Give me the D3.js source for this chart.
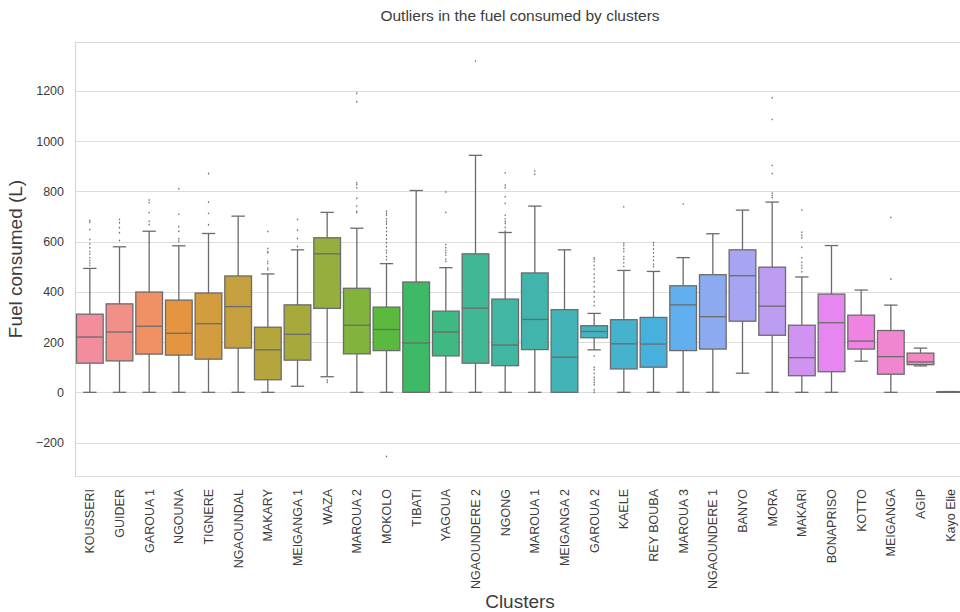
<!DOCTYPE html>
<html>
<head>
<meta charset="utf-8">
<script src="https://cdn.jsdelivr.net/npm/d3@7"></script>
<style>
  body { margin: 0; background: #fff; }
  text { font-family: "Liberation Sans", Arial, sans-serif; }
</style>
</head>
<body>
<div id="container"></div>
<script>
/* DATA */
const clusters = ["KOUSSERI", "GUIDER", "GAROUA 1", "NGOUNA", "TIGNERE", "NGAOUNDAL", "MAKARY",
  "MEIGANGA 1", "WAZA", "MAROUA 2", "MOKOLO", "TIBATI", "YAGOUA", "NGAOUNDERE 2", "NGONG",
  "MAROUA 1", "MEIGANGA 2", "GAROUA 2", "KAELE", "REY BOUBA", "MAROUA 3", "NGAOUNDERE 1",
  "BANYO", "MORA", "MAKARI", "BONAPRISO", "KOTTO", "MEIGANGA", "AGIP", "Kayo Elie"];

const whiskerLow  = [0, 0, 0, 0, 0, 0, 0, 24, 62, 0, 0, 0, 0, 0, 0, 0, 0, 169, 0, 0, 0, 0, 76, 0, 0, 0, 124, 0, 105, 0];
const q1          = [116, 125, 152, 148, 132, 176, 50, 128, 334, 153, 166, 0, 145, 116, 106, 170, 0, 217, 93, 100, 166, 172, 283, 227, 66, 82, 172, 72, 110, 1];
const medians     = [220, 240, 263, 235, 273, 341, 169, 231, 551, 267, 250, 196, 240, 335, 188, 290, 140, 242, 193, 192, 348, 301, 464, 343, 138, 277, 204, 142, 121, 2];
const q3          = [311, 352, 399, 367, 395, 463, 259, 348, 615, 414, 339, 439, 323, 551, 371, 475, 329, 265, 289, 298, 424, 468, 567, 498, 267, 391, 307, 246, 156, 2];
const whiskerHigh = [493, 579, 641, 583, 632, 701, 471, 567, 716, 653, 512, 803, 496, 943, 636, 741, 567, 314, 485, 481, 536, 631, 725, 757, 459, 584, 407, 347, 176, 3];

const outliers = [
  [684, 677, 648, 608, 590, 575, 560, 550, 535, 525, 515, 505],
  [688, 675, 655, 635, 604],
  [765, 755, 715, 681, 668],
  [810, 709, 659, 641, 611, 601],
  [871, 757, 712, 667],
  [],
  [640, 572, 560, 555, 521, 512, 495, 488],
  [688, 645, 612, 580],
  [49, 40],
  [1190, 1156, 834, 826, 814, 772, 741, 721, 715],
  [721, 712, 705, 690, 680, 670, 655, 640, 625, 610, 595, 580, 565, 555, 540, 528, -255],
  [],
  [797, 716, 588, 575, 565, 555, 545, 530, 521],
  [1318],
  [873, 824, 814, 778, 752, 705, 690, 680, 672, 656, 641],
  [881, 868],
  [],
  [535, 530, 520, 505, 490, 470, 455, 440, 420, 400, 380, 360, 345, 145, 100, 90, 75, 60, 50, 40, 30, 10, 0],
  [738, 592, 583, 571, 560, 540, 530, 515, 501],
  [595, 585, 570, 555, 540, 525, 510, 500],
  [749],
  [],
  [],
  [1172, 1086, 903, 871, 792, 783, 774],
  [725, 637, 625, 615, 577, 535, 517, 505, 495, 480],
  [],
  [],
  [696, 451],
  [],
  []
];

const yTicks = [-200, 0, 200, 400, 600, 800, 1000, 1200];

/* CONSTANTS */
const width = 960,
  height = 612,
  margin = {top: 42, bottom: 136, left: 75, right: -5},
  lineColor = "#6b6b6b",
  textColor = "#3c3c3c";

/* husl palette (seaborn style) */
const M = [[3.240969941904521, -1.537383177570093, -0.498610760293],
  [-0.96924363628087, 1.87596750150772, 0.041555057407175],
  [0.055630079696993, -0.20397695888897, 1.056971514242878]];
const refU = 0.19783000664283, refV = 0.46831999493879;
const kappa = 903.2962962, epsilon = 0.0088564516;

function maxChroma(L, H) {
  const hrad = H / 180 * Math.PI;
  const sub1 = Math.pow(L + 16, 3) / 1560896;
  const sub2 = sub1 > epsilon ? sub1 : L / kappa;
  let best = Infinity;
  M.forEach(([m1, m2, m3]) => {
    [0, 1].forEach(t => {
      const top1 = (284517 * m1 - 94839 * m3) * sub2;
      const top2 = (838422 * m3 + 769860 * m2 + 731718 * m1) * L * sub2 - 769860 * t * L;
      const bottom = (632260 * m3 - 126452 * m2) * sub2 + 126452 * t;
      const len = (top2 / bottom) / (Math.sin(hrad) - (top1 / bottom) * Math.cos(hrad));
      if (len >= 0) best = Math.min(best, len);
    });
  });
  return best;
}

function huslToRgb(H, S, L) {
  const C = maxChroma(L, H) / 100 * S;
  const hrad = H / 180 * Math.PI;
  const U = Math.cos(hrad) * C, V = Math.sin(hrad) * C;
  const Y = L <= 8 ? L / kappa : Math.pow((L + 16) / 116, 3);
  const varU = U / (13 * L) + refU, varV = V / (13 * L) + refV;
  const X = -(9 * Y * varU) / ((varU - 4) * varV - varU * varV);
  const Z = (9 * Y - 15 * varV * Y - varV * X) / (3 * varV);
  return M.map(r => {
    const c = r[0] * X + r[1] * Y + r[2] * Z;
    const v = c <= 0.0031308 ? 12.92 * c : 1.055 * Math.pow(c, 1 / 2.4) - 0.055;
    return Math.max(0, Math.min(1, v));
  });
}

const colors = clusters.map((d, i) => {
  const h = ((i / clusters.length + 0.01) % 1) * 359;
  const [r, g, b] = huslToRgb(h, 0.9 * 99, 0.7 * 99);
  const c = d3.hsl(d3.rgb(r * 255, g * 255, b * 255));
  c.s *= 0.9;
  return c.formatHex();
});

/* SCALES */
const xScale = d3.scaleBand()
  .domain(clusters)
  .range([margin.left, width - margin.right]);

const yScale = d3.scaleLinear()
  .domain([-333, 1394])
  .range([height - margin.bottom, margin.top]);

const boxW = xScale.bandwidth() * 0.9;

/* SVG */
const svg = d3.select("#container")
  .append("svg")
  .attr("width", width)
  .attr("height", height)
  .style("display", "block");

// grid
svg.append("g")
  .selectAll("line")
  .data(yTicks)
  .join("line")
  .attr("x1", margin.left)
  .attr("x2", width)
  .attr("y1", d => Math.round(yScale(d)) + 0.5)
  .attr("y2", d => Math.round(yScale(d)) + 0.5)
  .attr("stroke", "#dcdcdc")
  .attr("stroke-width", 1.2);

// spines
const plotTop = Math.round(yScale.range()[1]) + 0.5,
  plotBot = Math.round(yScale.range()[0]) + 0.5;
svg.append("path")
  .attr("d", `M${width},${plotTop}H${margin.left + 0.5}V${plotBot}H${width}`)
  .attr("fill", "none")
  .attr("stroke", "#d6d6d6")
  .attr("stroke-width", 1.2);

// y axis
const yAxis = svg.append("g")
  .attr("transform", `translate(${margin.left},0)`)
  .call(d3.axisLeft(yScale).tickValues(yTicks).tickFormat(d3.format("d")).tickSize(0).tickPadding(11));
yAxis.select(".domain").remove();
yAxis.selectAll("text")
  .attr("font-size", 12.5)
  .attr("fill", textColor);

// x axis
const xAxis = svg.append("g")
  .attr("transform", `translate(0,${height - margin.bottom})`)
  .call(d3.axisBottom(xScale).tickSize(0));
xAxis.select(".domain").remove();
xAxis.selectAll("text")
  .attr("transform", "rotate(-90)")
  .attr("text-anchor", "end")
  .attr("x", -13)
  .attr("y", 0)
  .attr("dy", "0.35em")
  .attr("font-size", 12.5)
  .attr("fill", textColor);

// boxes
const boxes = svg.append("g")
  .selectAll("g")
  .data(clusters)
  .join("g")
  .attr("transform", d => `translate(${xScale(d) + xScale.bandwidth() / 2},0)`);

// whiskers
boxes.append("line")
  .attr("y1", (d, i) => yScale(whiskerLow[i]))
  .attr("y2", (d, i) => yScale(q1[i]))
  .attr("stroke", lineColor).attr("stroke-width", 1.3);
boxes.append("line")
  .attr("y1", (d, i) => yScale(q3[i]))
  .attr("y2", (d, i) => yScale(whiskerHigh[i]))
  .attr("stroke", lineColor).attr("stroke-width", 1.3);

// caps
boxes.selectAll(".cap")
  .data((d, i) => [whiskerLow[i], whiskerHigh[i]])
  .join("line")
  .attr("class", "cap")
  .attr("x1", -boxW / 4)
  .attr("x2", boxW / 4)
  .attr("y1", d => yScale(d))
  .attr("y2", d => yScale(d))
  .attr("stroke", lineColor).attr("stroke-width", 1.3);

// box
boxes.append("rect")
  .attr("x", -boxW / 2)
  .attr("width", boxW)
  .attr("y", (d, i) => yScale(q3[i]))
  .attr("height", (d, i) => Math.max(0.5, yScale(q1[i]) - yScale(q3[i])))
  .attr("fill", (d, i) => colors[i])
  .attr("stroke", lineColor)
  .attr("stroke-width", 1.3);

// median
boxes.append("line")
  .attr("x1", -boxW / 2)
  .attr("x2", boxW / 2)
  .attr("y1", (d, i) => yScale(medians[i]))
  .attr("y2", (d, i) => yScale(medians[i]))
  .attr("stroke", lineColor).attr("stroke-width", 1.3);

// fliers
boxes.selectAll(".flier")
  .data((d, i) => outliers[i])
  .join("path")
  .attr("class", "flier")
  .attr("d", d => `M0,${yScale(d) - 1.2}l0.8,1.2l-0.8,1.2l-0.8,-1.2z`)
  .attr("fill", lineColor);

// labels
svg.append("text")
  .attr("x", (margin.left + width - margin.right) / 2)
  .attr("y", 21)
  .attr("text-anchor", "middle")
  .attr("font-size", 15.5)
  .attr("fill", textColor)
  .text("Outliers in the fuel consumed by clusters");

svg.append("text")
  .attr("transform", `translate(22,${(margin.top + height - margin.bottom) / 2}) rotate(-90)`)
  .attr("text-anchor", "middle")
  .attr("font-size", 19)
  .attr("fill", textColor)
  .text("Fuel consumed (L)");

svg.append("text")
  .attr("x", (margin.left + width - margin.right) / 2)
  .attr("y", 608)
  .attr("text-anchor", "middle")
  .attr("font-size", 19)
  .attr("fill", textColor)
  .text("Clusters");
</script>
</body>
</html>
